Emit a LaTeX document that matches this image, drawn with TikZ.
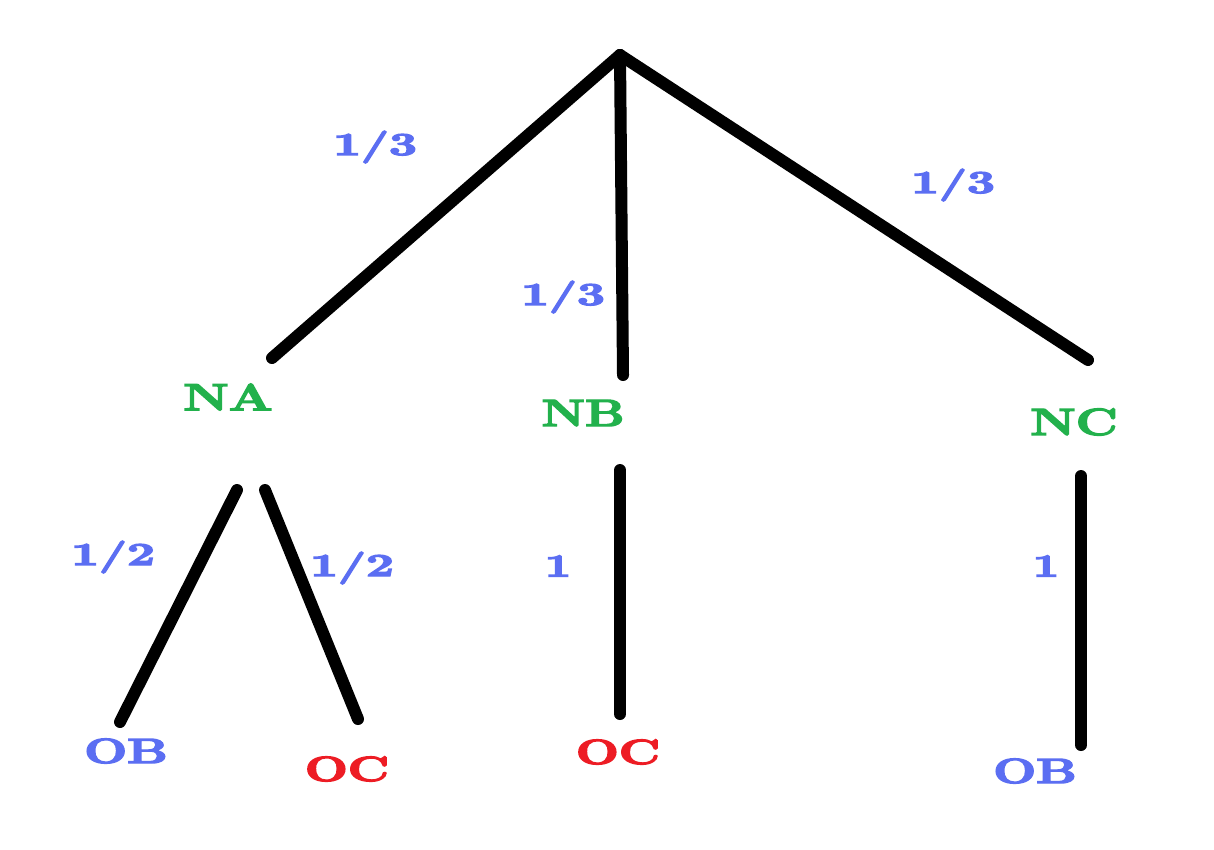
\documentclass[tikz,border=0pt]{standalone}
\usepackage{graphicx}
\definecolor{probblue}{HTML}{5B6EF2}
\definecolor{stategreen}{HTML}{22B14C}
\definecolor{outred}{HTML}{ED1C24}
% wide, heavy lettering: stretched bold face, glyphs filled and stroked
\newcommand{\heavytxt}[2]{\scalebox{#1}[1]{\special{pdf:literal direct 2 Tr 1.3 w}#2\special{pdf:literal direct 0 Tr}}}
\tikzset{
  branch/.style={line width=12pt, line cap=round, black},
  statelbl/.style={text=stategreen, font=\fontsize{38}{38}\selectfont\bfseries, inner sep=0pt},
  leafblue/.style={text=probblue, font=\fontsize{35}{35}\selectfont\bfseries, inner sep=0pt},
  leafred/.style={text=outred, font=\fontsize{35}{35}\selectfont\bfseries, inner sep=0pt},
  problbl/.style={text=probblue, font=\fontsize{32}{32}\selectfont\bfseries, inner sep=0pt}
}
\begin{document}
\begin{tikzpicture}[x=1pt,y=-1pt]
\useasboundingbox (0,0) rectangle (1214,849);
\fill[white] (0,0) rectangle (1214,849);

% root and branch end points
\coordinate (root) at (620,55);
\coordinate (naT) at (272,358);
\coordinate (nbT) at (623,375);
\coordinate (ncT) at (1088,360);
\coordinate (naL) at (237,490);
\coordinate (naR) at (265,490);
\coordinate (nbB) at (620,470);
\coordinate (ncB) at (1081,476);
\coordinate (obLT) at (120,722);
\coordinate (ocLT) at (358,719);
\coordinate (ocMT) at (620,714);
\coordinate (obRT) at (1081,745);

% first level
\draw[branch] (root) -- (naT);
\draw[branch] (root) -- (nbT);
\draw[branch] (root) -- (ncT);

% second level
\draw[branch] (naL) -- (obLT);
\draw[branch] (naR) -- (ocLT);
\draw[branch] (nbB) -- (ocMT);
\draw[branch] (ncB) -- (obRT);

% state labels
\node[statelbl] (NA) at (228,397) {\heavytxt{1.36}{NA}};
\node[statelbl] (NB) at (583,413) {\heavytxt{1.3}{NB}};
\node[statelbl] (NC) at (1074,422) {\heavytxt{1.36}{NC}};

% outcomes
\node[leafblue] (OB1) at (126,751) {\heavytxt{1.45}{OB}};
\node[leafred]  (OC1) at (347,769) {\heavytxt{1.45}{OC}};
\node[leafred]  (OC2) at (618,752) {\heavytxt{1.45}{OC}};
\node[leafblue] (OB2) at (1035,771) {\heavytxt{1.45}{OB}};

% probabilities
\node[problbl] (p1) at (375,147) {\heavytxt{1.55}{1/3}};
\node[problbl] (p2) at (563,297) {\heavytxt{1.55}{1/3}};
\node[problbl] (p3) at (953,185) {\heavytxt{1.55}{1/3}};
\node[problbl] (p4) at (113,557) {\heavytxt{1.55}{1/2}};
\node[problbl] (p5) at (352,568) {\heavytxt{1.55}{1/2}};
\node[problbl] (p6) at (558,566) {\heavytxt{1.45}{1}};
\node[problbl] (p7) at (1046,566) {\heavytxt{1.45}{1}};
\end{tikzpicture}
\end{document}
